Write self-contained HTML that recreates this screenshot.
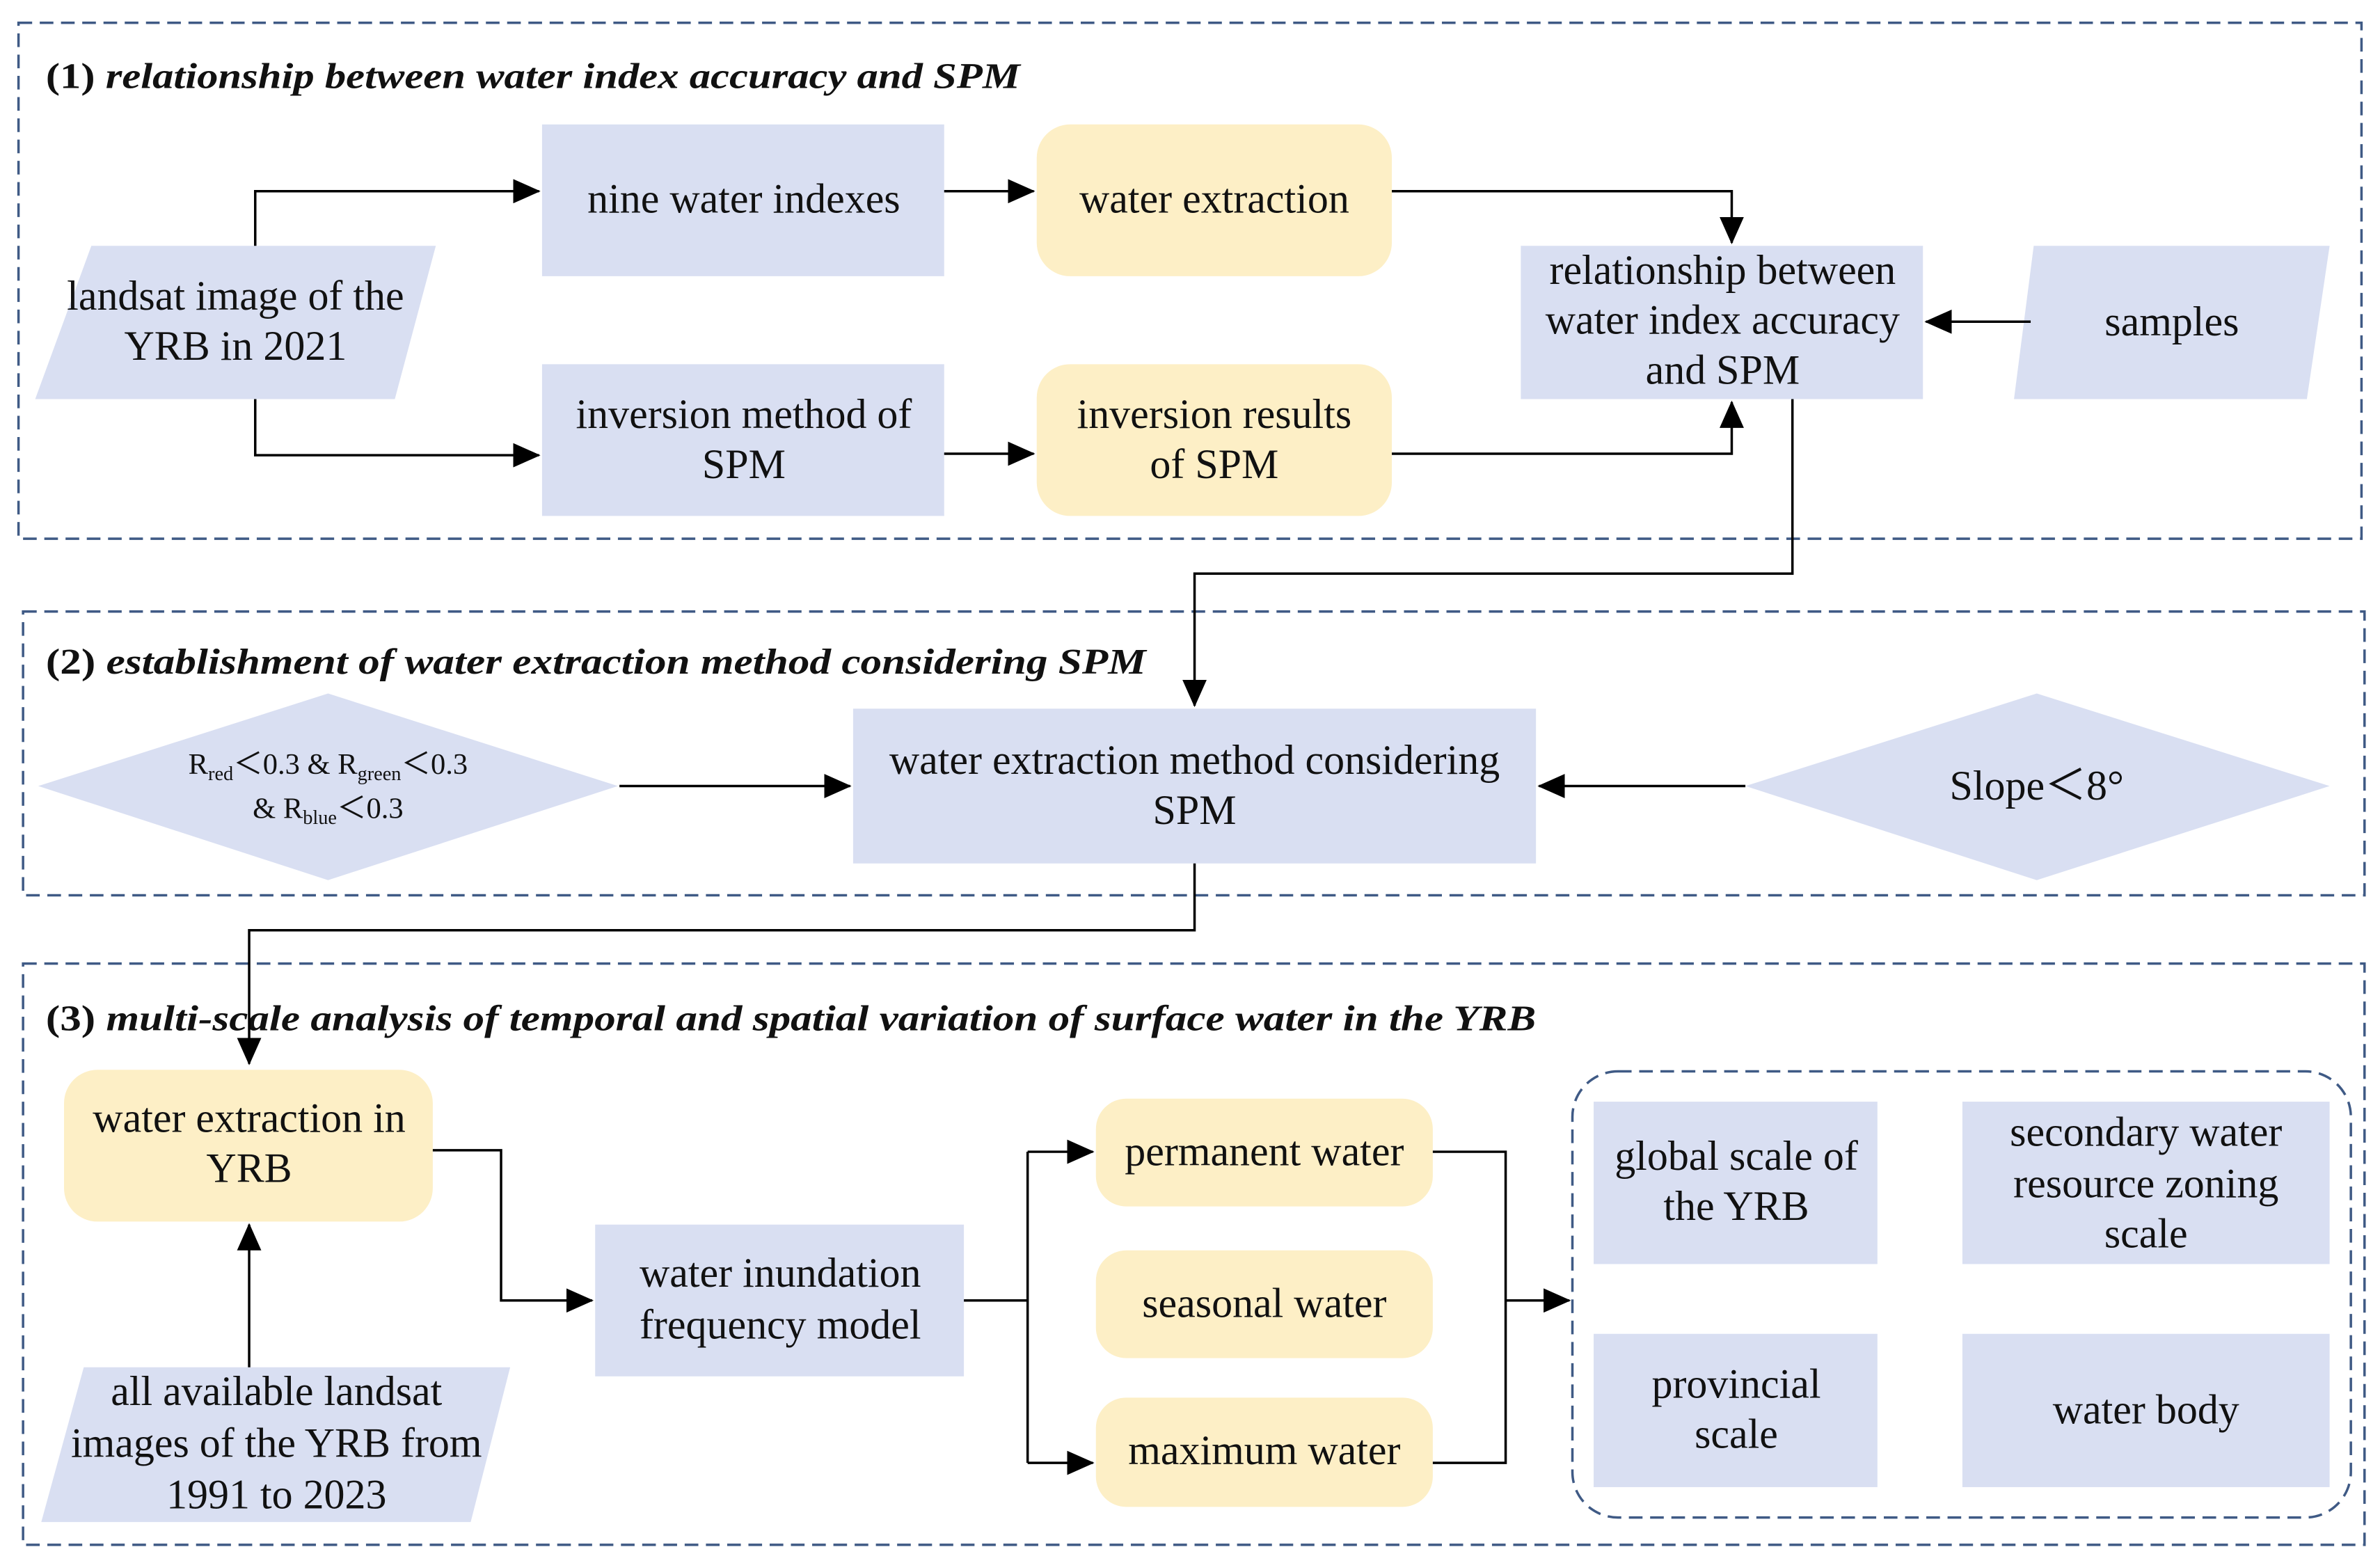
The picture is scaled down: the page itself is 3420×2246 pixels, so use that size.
<!DOCTYPE html>
<html><head><meta charset="utf-8"><style>
html,body{margin:0;padding:0;background:#fff;}
svg{display:block}
text{font-family:"Liberation Serif",serif;fill:#111;}
</style></head><body>
<svg width="3420" height="2246" viewBox="0 0 1568 1030" xmlns="http://www.w3.org/2000/svg">
<defs>
<marker id="b" markerWidth="18" markerHeight="16" refX="17" refY="8" orient="auto" markerUnits="userSpaceOnUse">
<path d="M0,0 L18,8 L0,16 z" fill="#000"/></marker>
</defs>
<g fill="none" stroke="#3f5a85" stroke-width="1.6" stroke-dasharray="9 5">
<rect x="12" y="15" width="1544" height="340"/>
<rect x="15" y="403" width="1543" height="187"/>
<rect x="15" y="635" width="1543" height="383"/>
<rect x="1036" y="706" width="513" height="294" rx="30"/>
</g>
<g font-size="24" font-weight="bold">
<text x="30" y="58" textLength="642" lengthAdjust="spacingAndGlyphs">(1) <tspan font-style="italic">relationship between water index accuracy and SPM</tspan></text>
<text x="30" y="444" textLength="725" lengthAdjust="spacingAndGlyphs">(2) <tspan font-style="italic">establishment of water extraction method considering  SPM</tspan></text>
<text x="30" y="679" textLength="982" lengthAdjust="spacingAndGlyphs">(3) <tspan font-style="italic">multi-scale analysis of temporal and spatial variation  of surface water in the YRB</tspan></text>
</g>
<g fill="#d9dff2">
<polygon points="60,162 287,162 260,263 23,263"/>
<rect x="357" y="82" width="265" height="100"/>
<rect x="357" y="240" width="265" height="100"/>
<rect x="1002" y="162" width="265" height="101"/>
<polygon points="1340,162 1535,162 1520,263 1327,263"/>
<polygon points="216,457 407,518 216,580 25,518"/>
<rect x="562" y="467" width="450" height="102"/>
<polygon points="1342,457 1535,518 1342,580 1150,518"/>
<polygon points="55,901 336,901 310,1003 27,1003"/>
<rect x="392" y="807" width="243" height="100"/>
<rect x="1050" y="726" width="187" height="107"/>
<rect x="1293" y="726" width="242" height="107"/>
<rect x="1050" y="879" width="187" height="101"/>
<rect x="1293" y="879" width="242" height="101"/>
</g>
<g fill="#fdefc6">
<rect x="683" y="82" width="234" height="100" rx="22"/>
<rect x="683" y="240" width="234" height="100" rx="22"/>
<rect x="42" y="705" width="243" height="100" rx="22"/>
<rect x="722" y="724" width="222" height="71" rx="20"/>
<rect x="722" y="824" width="222" height="71" rx="20"/>
<rect x="722" y="921" width="222" height="72" rx="20"/>
</g>
<g fill="none" stroke="#000" stroke-width="1.6">
<path d="M168,162 V126 H355" marker-end="url(#b)"/>
<path d="M168,263 V300 H355" marker-end="url(#b)"/>
<path d="M622,126 H681" marker-end="url(#b)"/>
<path d="M622,299 H681" marker-end="url(#b)"/>
<path d="M917,126 H1141 V160" marker-end="url(#b)"/>
<path d="M917,299 H1141 V265" marker-end="url(#b)"/>
<path d="M1338,212 H1269" marker-end="url(#b)"/>
<path d="M1181,263 V378 H787 V465" marker-end="url(#b)"/>
<path d="M408,518 H560" marker-end="url(#b)"/>
<path d="M1150,518 H1014" marker-end="url(#b)"/>
<path d="M787,569 V613 H164 V701" marker-end="url(#b)"/>
<path d="M164,901 V807" marker-end="url(#b)"/>
<path d="M285,758 H330 V857 H390" marker-end="url(#b)"/>
<path d="M635,857 H677"/>
<path d="M677,759 V964"/>
<path d="M677,759 H720" marker-end="url(#b)"/>
<path d="M677,964 H720" marker-end="url(#b)"/>
<path d="M944,759 H992 V964 H944"/>
<path d="M992,857 H1034" marker-end="url(#b)"/>
</g>
<g font-size="27.5" text-anchor="middle">
<text x="155" y="204">landsat image of the</text>
<text x="155" y="237">YRB in 2021</text>
<text x="490" y="140">nine water indexes</text>
<text x="800" y="140">water extraction</text>
<text x="490" y="282">inversion method of</text>
<text x="490" y="315">SPM</text>
<text x="800" y="282">inversion results</text>
<text x="800" y="315">of SPM</text>
<text x="1135" y="187">relationship between</text>
<text x="1135" y="220">water index accuracy</text>
<text x="1135" y="253">and SPM</text>
<text x="1431" y="221">samples</text>
<text x="787" y="510">water extraction method considering</text>
<text x="787" y="543">SPM</text>
<text x="1342" y="527">Slope＜8°</text>
<text x="164" y="746">water extraction in</text>
<text x="164" y="779">YRB</text>
<text x="182" y="926">all available landsat</text>
<text x="182" y="960">images of the YRB from</text>
<text x="182" y="994">1991 to 2023</text>
<text x="514" y="848">water inundation</text>
<text x="514" y="882">frequency model</text>
<text x="833" y="768">permanent water</text>
<text x="833" y="868">seasonal water</text>
<text x="833" y="965">maximum water</text>
<text x="1144" y="771">global scale of</text>
<text x="1144" y="804">the YRB</text>
<text x="1414" y="755">secondary water</text>
<text x="1414" y="789">resource zoning</text>
<text x="1414" y="822">scale</text>
<text x="1144" y="921">provincial</text>
<text x="1144" y="954">scale</text>
<text x="1414" y="938">water body</text>
</g>
<g font-size="19.5" text-anchor="middle">
<text x="216" y="510">R<tspan font-size="13" dy="4">red</tspan><tspan dy="-4">＜0.3 &amp; R</tspan><tspan font-size="13" dy="4">green</tspan><tspan dy="-4">＜0.3</tspan></text>
<text x="216" y="539">&amp; R<tspan font-size="13" dy="4">blue</tspan><tspan dy="-4">＜0.3</tspan></text>
</g>
</svg>
</body></html>
